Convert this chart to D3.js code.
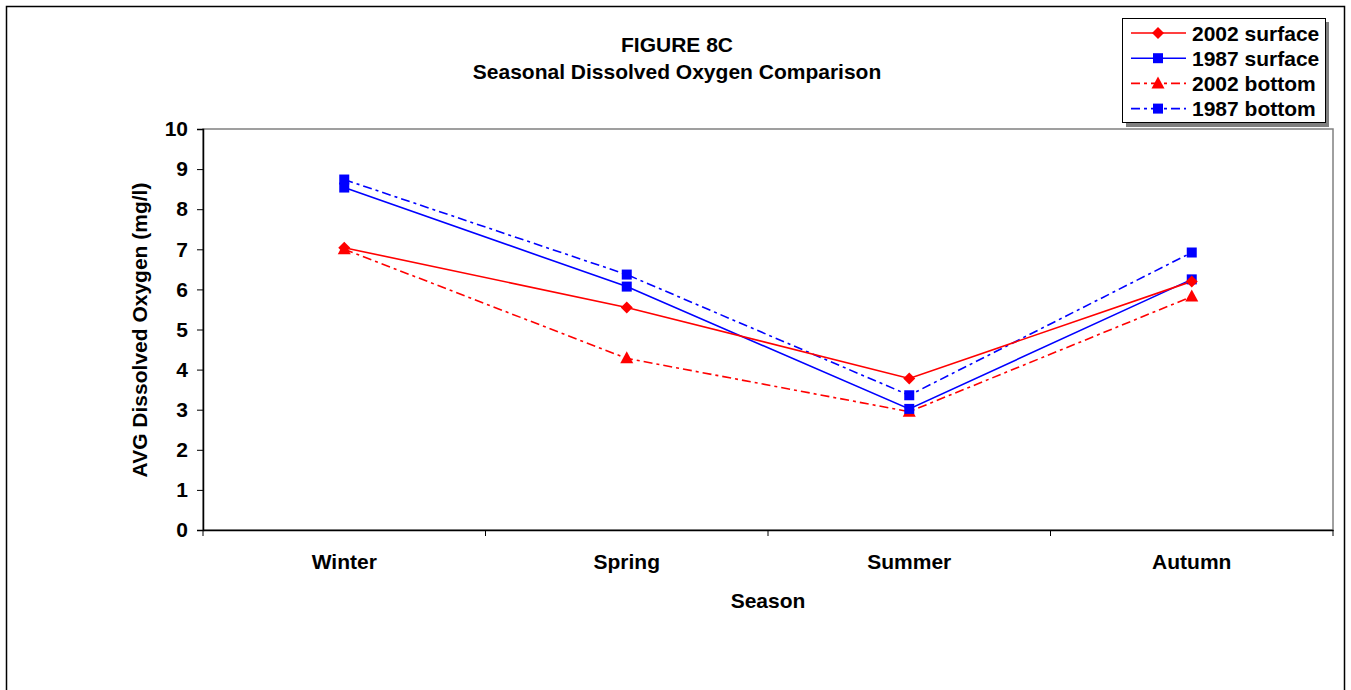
<!DOCTYPE html>
<html>
<head>
<meta charset="utf-8">
<script src="https://cdn.jsdelivr.net/npm/d3@7"></script>
<style>
  body { margin: 0; background: #fff; }
  text { font-family: "Liberation Sans", Arial, sans-serif; font-weight: bold; fill: #000; }
</style>
</head>
<body>
<svg id="chart" width="1351" height="690"></svg>
<script>
// chart data
var seasons = ["Winter", "Spring", "Summer", "Autumn"];
var surface2002 = [7.04, 5.55, 3.78, 6.20];
var surface1987 = [8.54, 6.07, 3.02, 6.25];
var bottom2002 = [7.00, 4.28, 2.95, 5.82];
var bottom1987 = [8.74, 6.37, 3.36, 6.92];
var yTicks = [0, 1, 2, 3, 4, 5, 6, 7, 8, 9, 10];

var seriesList = [
  {name: "2002 surface", values: surface2002, color: "#ff0000", dash: null, marker: "diamond"},
  {name: "1987 surface", values: surface1987, color: "#0000ff", dash: null, marker: "square"},
  {name: "2002 bottom", values: bottom2002, color: "#ff0000", dash: "9,4,3,4", marker: "triangle"},
  {name: "1987 bottom", values: bottom1987, color: "#0000ff", dash: "9,4,3,4", marker: "square"}
];

var svg = d3.select("#chart");
var fontSize = "21px";

// outer chart border
svg.append("rect")
   .attr("x", 6.5).attr("y", 6.5)
   .attr("width", 1338).attr("height", 700)
   .attr("fill", "#fff").attr("stroke", "#000").attr("stroke-width", 1.5);

var plot = {left: 203, right: 1333, top: 129, bottom: 530};

var x = d3.scaleBand().domain(seasons).range([plot.left, plot.right]);
var y = d3.scaleLinear().domain([0, 10]).range([plot.bottom, plot.top]);

// plot area border (top/right in gray)
svg.append("rect")
   .attr("x", plot.left).attr("y", plot.top)
   .attr("width", plot.right - plot.left).attr("height", plot.bottom - plot.top)
   .attr("fill", "none").attr("stroke", "#808080").attr("stroke-width", 1.5);

// y axis
var yAxis = svg.append("g")
   .attr("transform", "translate(" + plot.left + ",0)")
   .call(d3.axisLeft(y).tickValues(yTicks).tickSize(6).tickPadding(9).tickFormat(d3.format("d")));
yAxis.select(".domain").attr("stroke", "#000").attr("stroke-width", 1.5);
yAxis.selectAll(".tick line").attr("stroke", "#000");
yAxis.selectAll("text").style("font-size", fontSize).style("font-family", "Liberation Sans, Arial, sans-serif").style("font-weight", "bold");

// x axis, ticks at category boundaries
var xAxis = svg.append("g")
   .attr("transform", "translate(0," + plot.bottom + ")")
   .call(d3.axisBottom(x).tickSize(0).tickPadding(24));
xAxis.select(".domain").attr("stroke", "#000").attr("stroke-width", 1.5);
xAxis.selectAll("text").style("font-size", fontSize).style("font-family", "Liberation Sans, Arial, sans-serif").style("font-weight", "bold");
var bounds = seasons.map(function(s){ return x(s); }).concat([x.range()[1]]);
xAxis.selectAll(".bound").data(bounds).enter().append("line")
   .attr("class", "bound")
   .attr("x1", function(d){ return d; }).attr("x2", function(d){ return d; })
   .attr("y1", 0).attr("y2", 6)
   .attr("stroke", "#000").attr("stroke-width", 1);

// axis titles
svg.append("text")
   .attr("x", (plot.left + plot.right) / 2).attr("y", 608)
   .attr("text-anchor", "middle").style("font-size", fontSize)
   .text("Season");
svg.append("text")
   .attr("transform", "translate(147,330) rotate(-90)")
   .attr("text-anchor", "middle").style("font-size", fontSize)
   .text("AVG Dissolved Oxygen (mg/l)");

// chart title
svg.append("text")
   .attr("x", 677).attr("y", 52)
   .attr("text-anchor", "middle").style("font-size", fontSize)
   .text("FIGURE 8C");
svg.append("text")
   .attr("x", 677).attr("y", 79)
   .attr("text-anchor", "middle").style("font-size", fontSize)
   .text("Seasonal Dissolved Oxygen Comparison");

// marker drawing helper
function drawMarker(g, type, cx, cy, color) {
  if (type == "diamond") {
    g.append("path")
     .attr("d", "M" + cx + "," + (cy - 6) + "L" + (cx + 6) + "," + cy + "L" + cx + "," + (cy + 6) + "L" + (cx - 6) + "," + cy + "Z")
     .attr("fill", color);
  } else if (type == "square") {
    g.append("rect")
     .attr("x", cx - 5).attr("y", cy - 5).attr("width", 10).attr("height", 10)
     .attr("fill", color);
  } else {
    g.append("path")
     .attr("d", "M" + cx + "," + (cy - 7) + "L" + (cx + 6.5) + "," + (cy + 5) + "L" + (cx - 6.5) + "," + (cy + 5) + "Z")
     .attr("fill", color);
  }
}

var line = d3.line()
   .x(function(d, i){ return x(seasons[i]) + x.bandwidth() / 2; })
   .y(function(d){ return y(d); });

// draw lines first, then markers
for (var i = seriesList.length - 1; i >= 0; i--) {
  var s = seriesList[i];
  svg.append("path")
     .datum(s.values)
     .attr("d", line)
     .attr("fill", "none")
     .attr("stroke", s.color)
     .attr("stroke-width", 1.6)
     .attr("stroke-dasharray", s.dash);
}
for (var i = seriesList.length - 1; i >= 0; i--) {
  var s = seriesList[i];
  var g = svg.append("g");
  s.values.forEach(function(v, j) {
    drawMarker(g, s.marker, x(seasons[j]) + x.bandwidth() / 2, y(v), s.color);
  });
}

// legend
var legend = svg.append("g");
legend.append("rect")
   .attr("x", 1126).attr("y", 22).attr("width", 203).attr("height", 105)
   .attr("fill", "#808080");
legend.append("rect")
   .attr("x", 1122.5).attr("y", 18.5).attr("width", 203).attr("height", 104)
   .attr("fill", "#fff").attr("stroke", "#000").attr("stroke-width", 1);
seriesList.forEach(function(s, i) {
  var ly = 33 + i * 25.2;
  legend.append("line")
     .attr("x1", 1131).attr("x2", 1186).attr("y1", ly).attr("y2", ly)
     .attr("stroke", s.color).attr("stroke-width", 1.6)
     .attr("stroke-dasharray", s.dash);
  drawMarker(legend, s.marker, 1158, ly, s.color);
  legend.append("text")
     .attr("x", 1192).attr("y", ly + 7.5)
     .style("font-size", fontSize)
     .text(s.name);
});
</script>
</body>
</html>
